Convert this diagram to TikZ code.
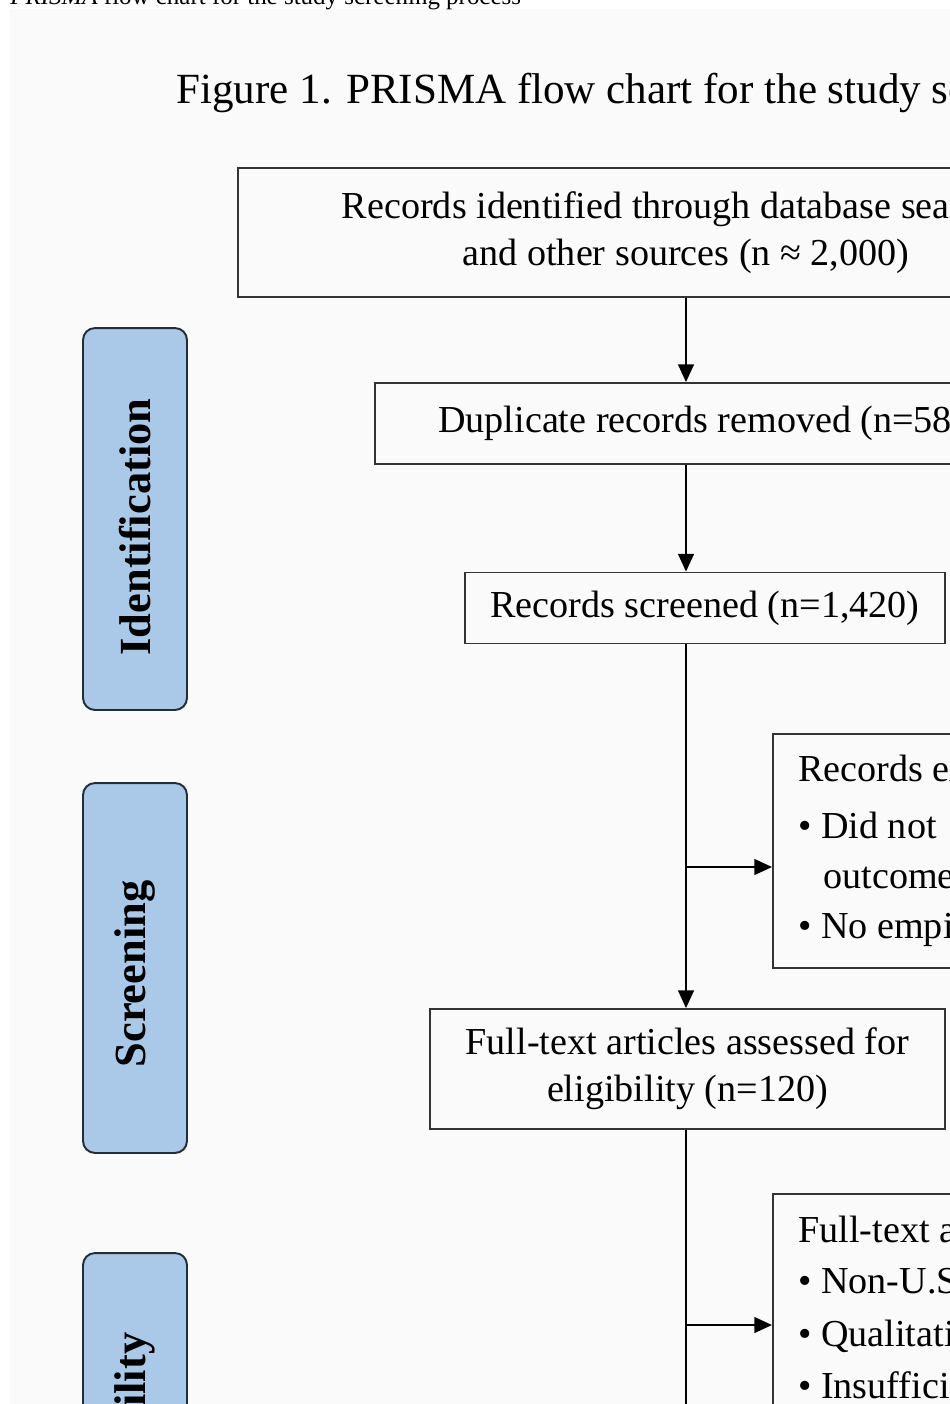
\documentclass[tikz,border=0pt]{standalone}
\usepackage{fontspec}
\setmainfont{Liberation Serif}
\usetikzlibrary{arrows.meta}
\definecolor{barblue}{RGB}{170,201,232}
\definecolor{barline}{RGB}{35,45,55}
\definecolor{pagegray}{RGB}{250,250,250}

\begin{document}
\begin{tikzpicture}[x=0.02cm,y=-0.02cm,
    box/.style={draw=black!80,line width=1.1pt,align=center,font=\fontsize{21.7}{26.6}\selectfont},
    txt/.style={anchor=base west,font=\fontsize{21.7}{26.6}\selectfont},
    phase/.style={draw=barline,line width=1.1pt,fill=barblue,rounded corners=0.24cm,rotate=90,minimum height=2.08cm,font=\fontsize{25.3}{30}\selectfont\bfseries},
    arr/.style={draw=black,line width=0.85pt,-{Triangle[length=10pt,width=9pt]}}]
    \tikzstyle{every node}+=[inner sep=0pt]
    \useasboundingbox (0,0) rectangle (950,1404);
    \clip (0,0) rectangle (950,1404);
    \fill [pagegray] (10,9) rectangle (950,1404);
    \node (cap) [anchor=base west,font=\fontsize{14.2}{17}\selectfont] at (10,4) {\textit{PRISMA} flow chart for the study screening process};
    \node (ttl) [anchor=base west,font=\fontsize{24.5}{29}\selectfont] at (176,103) {Figure 1. PRISMA flow chart for the study screening process};
    \node (srch) [box,minimum width=17.92cm,minimum height=2.58cm] at (686,232.5) {Records identified through database searches\\and other sources (n ≈ 2,000)};
    \node (dup) [box,minimum width=13.44cm,minimum height=1.62cm] at (711,423.5) {Duplicate records removed (n=580)};
    \node (scr) [box,minimum width=9.6cm,minimum height=1.42cm] at (705,608) {Records screened (n=1,420)};
    \node (full) [box,minimum width=10.3cm,minimum height=2.4cm] at (687.5,1069) {Full-text articles assessed for\\eligibility (n=120)};
    \node (ex1) [box,anchor=north west,minimum width=9cm,minimum height=4.68cm] at (772,733) {};
    \node (ex1a) [txt] at (798,781) {Records excluded};
    \node (ex1b) [txt] at (798,838) {• Did not};
    \node (ex1c) [txt] at (823,888) {outcome};
    \node (ex1d) [txt] at (798,938) {• No empirical};
    \node (ex2) [box,anchor=north west,minimum width=9cm,minimum height=6cm] at (772,1193) {};
    \node (ex2a) [txt] at (798,1242) {Full-text articles};
    \node (ex2b) [txt] at (798,1293) {• Non-U.S.};
    \node (ex2c) [txt] at (798,1346) {• Qualitative};
    \node (ex2d) [txt] at (798,1398) {• Insufficient};
    \node (idn) [phase,minimum width=7.64cm] at (135,519) {Identification\hspace*{0.32cm}};
    \node (scn) [phase,minimum width=7.4cm] at (135,968) {Screening\hspace*{0.24cm}};
    \node (elg) [phase,minimum width=6.74cm] at (135,1421.5) {Eligibility\hspace*{0.2cm}};
    \coordinate (j1) at (686,867);
    \coordinate (j2) at (686,1325);
    \coordinate (btm) at (686,1450);
    \draw [arr] (srch.south) -- (srch.south |- dup.north);
    \draw [arr] (dup.south -| srch.south) -- (scr.north -| srch.south);
    \draw [arr] (scr.south -| srch.south) -- (full.north -| srch.south);
    \draw [arr] (j1) -- (j1 -| ex1.west);
    \draw [black,line width=0.85pt] (full.south -| srch.south) -- (btm);
    \draw [arr] (j2) -- (j2 -| ex2.west);
\end{tikzpicture}
\end{document}
